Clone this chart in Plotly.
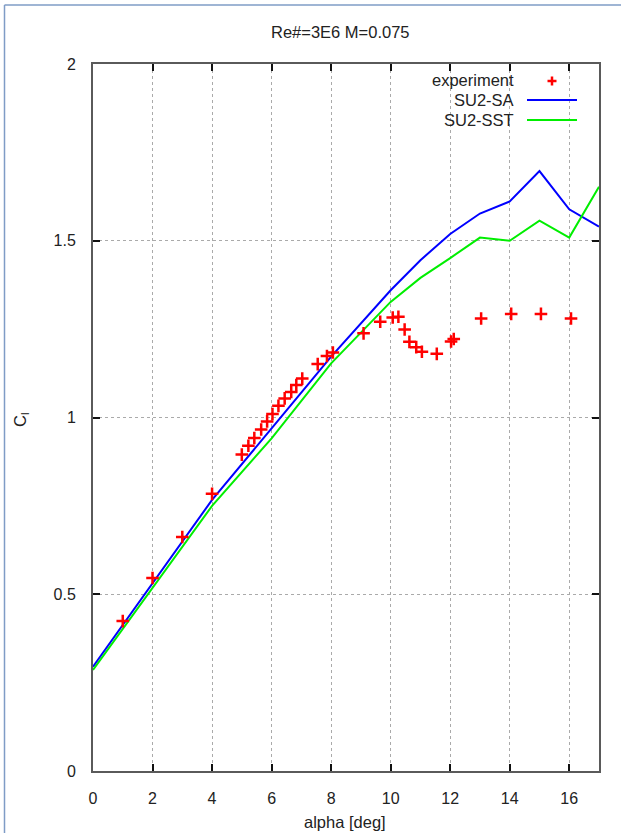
import plotly.graph_objects as go

# Wind-tunnel measurements: angle of attack [deg] and lift coefficient
alpha_exp = [1.0, 2.0, 3.0, 4.0, 5.0, 5.22, 5.42, 5.65, 5.85, 6.03, 6.23, 6.44,
             6.66, 6.83, 7.03, 7.55, 7.86, 8.06, 9.09, 9.65, 10.07, 10.26, 10.47,
             10.63, 10.86, 11.05, 11.55, 12.03, 12.12, 13.04, 14.05, 15.05, 16.06]
cl_exp = [0.424, 0.546, 0.662, 0.784, 0.895, 0.920, 0.942, 0.966, 0.989, 1.010,
          1.033, 1.054, 1.072, 1.092, 1.110, 1.151, 1.174, 1.184, 1.238, 1.271,
          1.283, 1.285, 1.249, 1.214, 1.199, 1.186, 1.180, 1.215, 1.222, 1.280,
          1.293, 1.293, 1.280]

# SU2 RANS results
alpha_cfd = [0, 2, 4, 6, 8, 10, 11, 12, 13, 14, 15, 16, 17]
cl_sa = [0.295, 0.531, 0.767, 0.969, 1.172, 1.360, 1.445, 1.519, 1.577, 1.611,
         1.697, 1.589, 1.540]
cl_sst = [0.286, 0.517, 0.750, 0.941, 1.153, 1.327, 1.395, 1.451, 1.509, 1.500,
          1.557, 1.509, 1.653]

x_ticks = [0, 2, 4, 6, 8, 10, 12, 14, 16]
y_ticks = [0, 0.5, 1, 1.5, 2]
y_tick_text = ["0", "0.5", "1", "1.5", "2"]

FONT = "Liberation Sans, Arial, sans-serif"
TXT = "#222222"
W, H = 621, 833
ML, MR, MT, MB = 93, 22, 64, 62
PW, PH = W - ML - MR, H - MT - MB


def px(x):
    return (x - ML) / PW


def py(y):
    return (H - MB - y) / PH


def label(text, x, y, xanchor="center", size=16.5, angle=0):
    return dict(text=text, x=px(x), y=py(y), xref="paper", yref="paper",
                xanchor=xanchor, yanchor="middle", showarrow=False,
                textangle=angle, font=dict(family=FONT, size=size, color=TXT))


fig = go.Figure()
fig.add_trace(go.Scatter(x=alpha_cfd, y=cl_sa, mode="lines", name="SU2-SA",
                         line=dict(color="#0000ff", width=2)))
fig.add_trace(go.Scatter(x=alpha_cfd, y=cl_sst, mode="lines", name="SU2-SST",
                         line=dict(color="#00ee00", width=2)))
fig.add_trace(go.Scatter(x=alpha_exp, y=cl_exp, mode="markers", name="experiment",
                         marker=dict(symbol="cross-thin", size=9,
                                     line=dict(color="#ff0000", width=2.5))))

axis_common = dict(
    showline=True, linecolor="#5a5a5a", linewidth=2, mirror="ticks",
    ticks="inside", ticklen=7, tickwidth=1.5, tickcolor="#111111",
    showgrid=True, gridcolor="#aaaaaa", gridwidth=1, griddash="dot",
    zeroline=False, tickfont=dict(family=FONT, size=16, color=TXT),
)

fig.update_xaxes(range=[0, 17], tickvals=x_ticks, ticklabelstandoff=12,
                 **axis_common)
fig.update_yaxes(range=[0, 2], tickvals=y_ticks, ticktext=y_tick_text,
                 ticklabelstandoff=12, **axis_common)

annotations = [
    label("Re#=3E6 M=0.075", 340, 32),
    label("alpha [deg]", 345, 822),
    label("C<sub>l</sub>", 21, 420, angle=-90),
]

# Key in the upper right corner: label right-aligned, sample to its right
legend_rows = [("experiment", 80), ("SU2-SA", 100), ("SU2-SST", 120)]
for text, yy in legend_rows:
    annotations.append(label(text, 516, yy, xanchor="right"))

shapes = [
    # key samples
    dict(type="line", xref="paper", yref="paper", x0=px(547.5), x1=px(556.5),
         y0=py(81), y1=py(81), line=dict(color="#ff0000", width=2.5)),
    dict(type="line", xref="paper", yref="paper", x0=px(552), x1=px(552),
         y0=py(76.5), y1=py(85.5), line=dict(color="#ff0000", width=2.5)),
    dict(type="line", xref="paper", yref="paper", x0=px(527), x1=px(577),
         y0=py(100), y1=py(100), line=dict(color="#0000ff", width=2)),
    dict(type="line", xref="paper", yref="paper", x0=px(527), x1=px(577),
         y0=py(120), y1=py(120), line=dict(color="#00ee00", width=2)),
    # outer window frame
    dict(type="line", xref="paper", yref="paper", x0=px(4.5), x1=px(4.5),
         y0=py(840), y1=py(5), line=dict(color="#7f9cc6", width=1.5)),
    dict(type="line", xref="paper", yref="paper", x0=px(4.5), x1=px(630),
         y0=py(5), y1=py(5), line=dict(color="#7f9cc6", width=1.5)),
]

fig.update_layout(
    width=W, height=H,
    margin=dict(l=ML, r=MR, t=MT, b=MB),
    paper_bgcolor="white", plot_bgcolor="white",
    showlegend=False,
    annotations=annotations,
    shapes=shapes,
)

fig.write_html("out.html")
